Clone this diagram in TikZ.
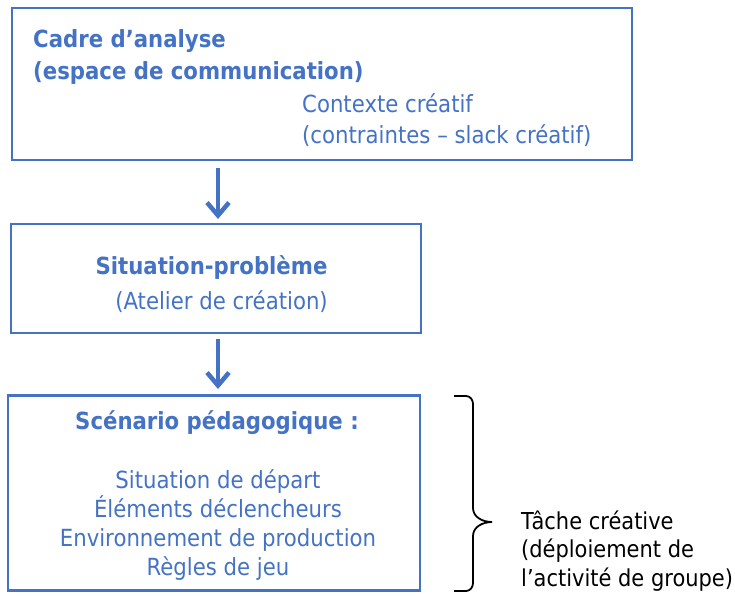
\documentclass[tikz,border=0pt]{standalone}
\usepackage{fontspec}
\setmainfont{DejaVu Sans}[FakeStretch=0.9]
\usetikzlibrary{arrows.meta}
\definecolor{ofblue}{HTML}{4472C4}
\tikzset{
  box/.style={draw=ofblue, line width=2.2pt, rectangle, inner sep=0pt},
  btxt/.style={text=ofblue, inner sep=0pt, font=\fontsize{23.6}{31}\selectfont},
  flow/.style={draw=ofblue, line width=4.5pt, -{Straight Barb[length=13pt,width=22pt,line width=4.5pt]}},
  brace/.style={draw=black, line width=1.8pt},
  ltxt/.style={text=black, inner sep=0pt, align=left, font=\fontsize{23.3}{28.5}\selectfont}
}
\begin{document}
\begin{tikzpicture}[x=1pt,y=-1pt]
\useasboundingbox (0,0) rectangle (735,595);
% boxes
\node[box, minimum width=620pt, minimum height=152pt] (b1) at (322,84) {};
\node[box, minimum width=410pt, minimum height=109pt] (b2) at (216,278.5) {};
\node[box, minimum width=412pt, minimum height=195pt] (b3) at (214,493) {};
% texts box 1
\node[btxt, anchor=west, align=left, font=\fontsize{23.6}{32}\selectfont\bfseries] (t1) at (33,57) {Cadre d’analyse\\(espace de communication)};
\node[btxt, anchor=west, align=left] (t2) at (302,120) {Contexte créatif\\(contraintes – slack créatif)};
% texts box 2
\node[btxt, font=\fontsize{23.6}{31}\selectfont\bfseries] (t3) at (211.5,268) {Situation-problème};
\node[btxt] (t4) at (221.5,302) {(Atelier de création)};
% texts box 3
\node[btxt, font=\fontsize{23.6}{31}\selectfont\bfseries] (t5) at (217,423) {Scénario pédagogique :};
\node[btxt, align=center, font=\fontsize{23.6}{29}\selectfont] (t6) at (218,525) {Situation de départ\\Éléments déclencheurs\\Environnement de production\\Règles de jeu};
% arrows
\coordinate (a1s) at (218,168);
\coordinate (a1e) at (218,219);
\coordinate (a2s) at (218,339);
\coordinate (a2e) at (218,389);
\draw[flow] (a1s) -- (a1e);
\draw[flow] (a2s) -- (a2e);
% brace
\draw[brace] (454,396) -- (466,396) to[out=0,in=90] (473,404) -- (473,508) to[out=-90,in=180] (492,522) to[out=180,in=90] (473,536) -- (473,583) to[out=-90,in=0] (466,591) -- (454,591);
\node[ltxt, anchor=west] (lab) at (521,551) {Tâche créative\\(déploiement de\\l’activité de groupe)};
\end{tikzpicture}
\end{document}
